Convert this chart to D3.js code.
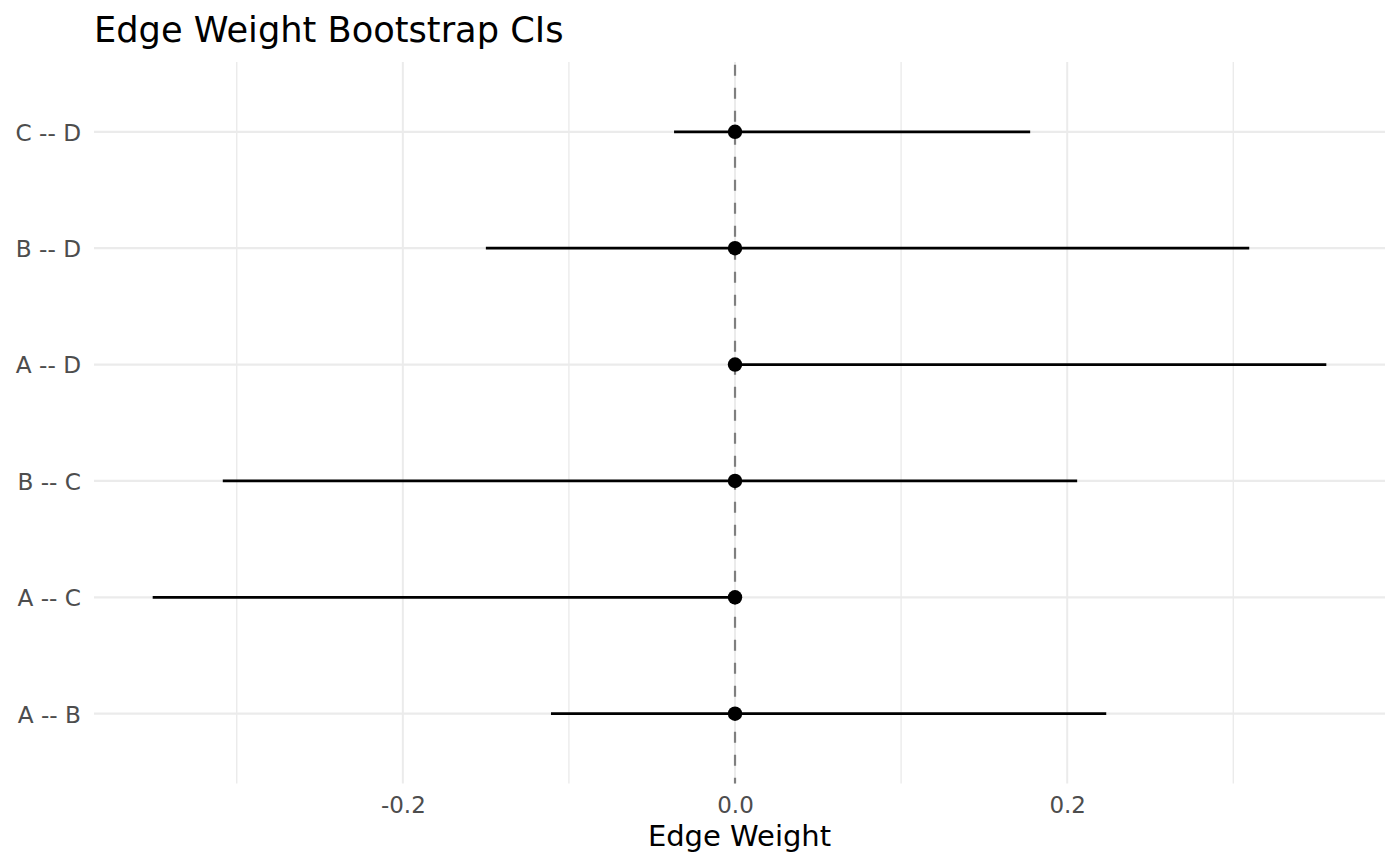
<!DOCTYPE html>
<html><head><meta charset="utf-8">
<script src="https://cdn.jsdelivr.net/npm/d3@7"></script>
<style>body{margin:0;background:#fff;} text{font-family:"DejaVu Sans",sans-serif;}</style>
</head><body>
<svg id="chart" width="1400" height="866"></svg>
<script>
const edges = ["A -- B", "A -- C", "B -- C", "A -- D", "B -- D", "C -- D"];
const estimates = [0, 0, 0, 0, 0, 0];
const lowerCI = [-0.1108, -0.3506, -0.3084, 0.0, -0.1500, -0.0367];
const upperCI = [0.2235, 0.0, 0.2060, 0.3560, 0.3096, 0.1777];
const xTicks = [-0.2, 0.0, 0.2];
const xTickLabels = ["-0.2", "0.0", "0.2"];
const xMinor = [-0.3, -0.1, 0.1, 0.3];

(function () {
const svg = d3.select("#chart");
const pL = 94, pR = 1385, pT = 62, pB = 783.5;

const lo = d3.min(lowerCI), hi = d3.max(upperCI);
const pad = (hi - lo) * 0.05;
const x = d3.scaleLinear().domain([lo - pad, hi + pad]).range([pL, pR]);
const y = d3.scalePoint().domain(edges).range([pB, pT]).padding(0.6);

const g = svg.append("g");
g.selectAll(".minor").data(xMinor).join("line")
  .attr("x1", d => x(d)).attr("x2", d => x(d)).attr("y1", pT).attr("y2", pB)
  .attr("stroke", "#ebebeb").attr("stroke-width", 1.4);
g.selectAll(".majx").data(xTicks).join("line")
  .attr("x1", d => x(d)).attr("x2", d => x(d)).attr("y1", pT).attr("y2", pB)
  .attr("stroke", "#ebebeb").attr("stroke-width", 2);
g.selectAll(".majy").data(edges).join("line")
  .attr("x1", pL).attr("x2", pR).attr("y1", d => y(d)).attr("y2", d => y(d))
  .attr("stroke", "#ebebeb").attr("stroke-width", 2.2);

g.append("line").attr("x1", x(0)).attr("x2", x(0)).attr("y1", pT).attr("y2", pB)
  .attr("stroke", "#7f7f7f").attr("stroke-width", 2.2)
  .attr("stroke-dasharray", "11,12").attr("stroke-dashoffset", -2.7);

const data = edges.map((e, i) => ({e, est: estimates[i], lo: lowerCI[i], hi: upperCI[i]}));
g.selectAll(".bar").data(data).join("line")
  .attr("x1", d => x(d.lo)).attr("x2", d => x(d.hi)).attr("y1", d => y(d.e)).attr("y2", d => y(d.e))
  .attr("stroke", "#000").attr("stroke-width", 2.8);
g.selectAll(".pt").data(data).join("circle")
  .attr("cx", d => x(d.est)).attr("cy", d => y(d.e)).attr("r", 7.2).attr("fill", "#000");

const xAxis = d3.axisBottom(x).tickValues(xTicks).tickFormat((d, i) => xTickLabels[i]).tickSize(0).tickPadding(0);
const xa = svg.append("g").attr("transform", `translate(0,${pB})`).call(xAxis);
xa.select(".domain").remove();
xa.selectAll("text").attr("fill", "#4d4d4d").style("font-size", "23px").attr("dy", "0").attr("y", 29.5)
  .style("font-family", "DejaVu Sans");

const yAxis = d3.axisLeft(y).tickSize(0).tickPadding(0);
const ya = svg.append("g").attr("transform", `translate(${pL},0)`).call(yAxis);
ya.select(".domain").remove();
ya.selectAll("text").attr("fill", "#4d4d4d").style("font-size", "23.2px").attr("x", -13).attr("dy", "0.36em")
  .style("font-family", "DejaVu Sans");

svg.append("text").attr("x", (pL + pR) / 2).attr("y", 846).attr("text-anchor", "middle")
  .style("font-size", "29px").attr("fill", "#000").text("Edge Weight");
svg.append("text").attr("x", 94).attr("y", 42)
  .style("font-size", "35.2px").attr("fill", "#000").text("Edge Weight Bootstrap CIs");
})();
</script>
</body></html>
